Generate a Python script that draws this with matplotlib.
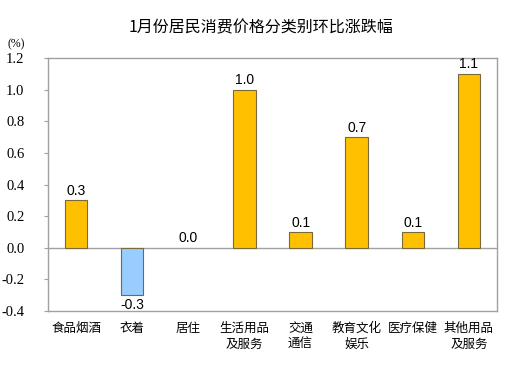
import numpy as np
import matplotlib
matplotlib.use("Agg")
import matplotlib.pyplot as plt

plt.rcParams['font.family'] = ['Noto Sans CJK SC', 'DejaVu Sans']

categories = ["食品烟酒", "衣着", "居住", "生活用品\n及服务", "交通\n通信",
              "教育文化\n娱乐", "医疗保健", "其他用品\n及服务"]
values = [0.3, -0.3, 0.0, 1.0, 0.1, 0.7, 0.1, 1.1]
yticks = [-0.4, -0.2, 0.0, 0.2, 0.4, 0.6, 0.8, 1.0, 1.2]

serif = ["Liberation Serif", "DejaVu Serif"]

fig = plt.figure(figsize=(5.22, 3.70), dpi=100)
ax = fig.add_axes([48 / 522, 1 - 311 / 370, 449 / 522, 253 / 370])

x = np.arange(len(categories))
colors = ["#FFC000" if v >= 0 else "#99CCFF" for v in values]
edges = [0.8 if v != 0 else 0 for v in values]
ax.bar(x, values, width=0.4, color=colors, edgecolor="#7a6a3a", linewidth=edges, zorder=2)

# value labels
for xi, v in zip(x, values):
    if v >= 0:
        ax.text(xi, v + 0.015, f"{v:.1f}", ha="center", va="bottom",
                fontsize=10, family="Liberation Sans")
    else:
        ax.text(xi, v - 0.015, f"{v:.1f}", ha="center", va="top",
                fontsize=10, family="Liberation Sans")

ax.axhline(0, color="#a0a0a0", lw=1, zorder=1)

ax.set_xlim(-0.5, len(categories) - 0.5)
ax.set_ylim(-0.4, 1.2)
ax.set_yticks(yticks)
ax.set_yticklabels([f"{t:.1f}" for t in yticks])
for lab in ax.get_yticklabels():
    lab.set_fontfamily(serif)
    lab.set_fontsize(10.5)
ax.tick_params(axis="y", length=3, color="#a0a0a0", pad=14)
ax.set_xticks(x)
ax.set_xticklabels(categories, fontsize=9, linespacing=1.3, va="top")
ax.tick_params(axis="x", length=0, pad=8)

for s in ax.spines.values():
    s.set_color("#a0a0a0")
    s.set_linewidth(1)

fig.text(8 / 522, 1 - 44 / 370, "(%)", family=serif, fontsize=8.5, va="center")
fig.text(0.5, 1 - 28 / 370, "1月份居民消费价格分类别环比涨跌幅", ha="center", va="center",
         fontsize=11.5)

fig.savefig("out.png", dpi=100)
